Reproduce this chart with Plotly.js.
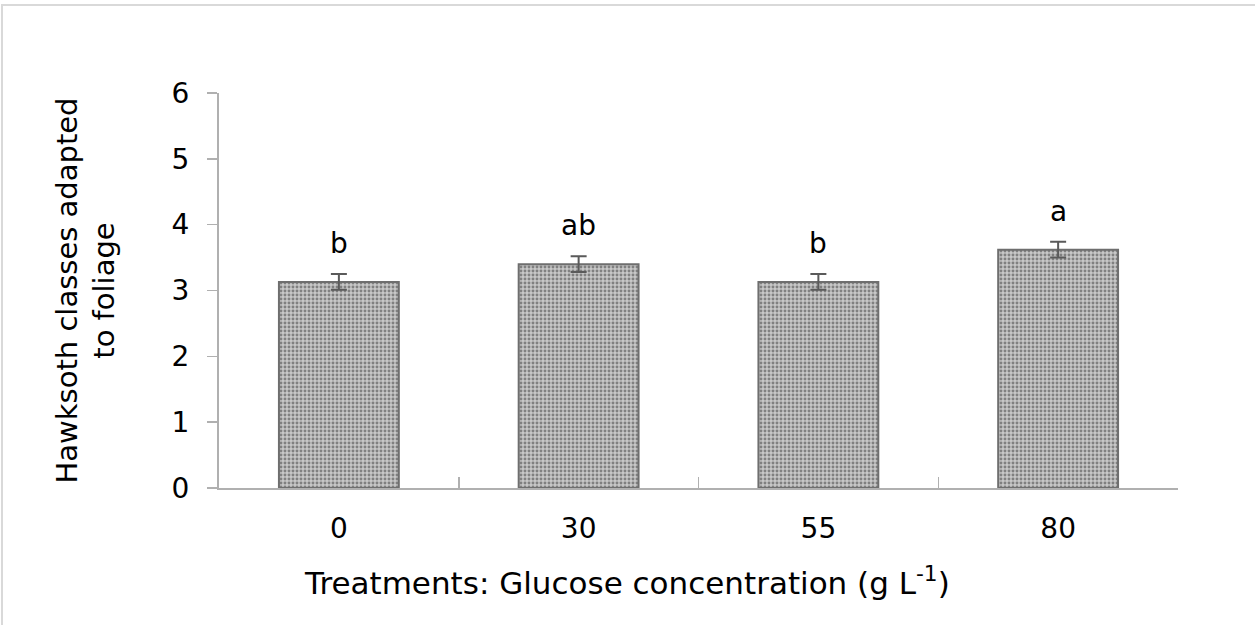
<!DOCTYPE html>
<html>
<head>
<meta charset="utf-8">
<script src="https://cdn.plot.ly/plotly-3.0.1.min.js"></script>
<style>
  html, body { margin: 0; padding: 0; background: #fff; }
  #frame { position: absolute; left: 1px; top: 4px; width: 1260px; height: 630px;
           border-top: 2px solid #d9d9d9; border-left: 2px solid #d9d9d9; }
  #chart { position: absolute; left: 0; top: 0; width: 1255px; height: 625px; }
</style>
</head>
<body>
<div id="frame"></div>
<div id="chart"></div>
<script>
const categories = ["0", "30", "55", "80"];
const values = [3.13, 3.40, 3.13, 3.62];
const errors = [0.12, 0.12, 0.12, 0.12];
const letters = ["b", "ab", "b", "a"];
const xTitle = "Treatments: Glucose concentration (g L<sup>-1</sup>)";
const yTitle = "Hawksoth classes adapted<br>to foliage";

const font = "DejaVu Sans, Verdana, sans-serif";

const bars = {
  type: "bar",
  x: categories,
  y: values,
  width: 0.5,
  marker: {
    color: "#b0b0b0",
    line: { color: "#6e6e6e", width: 2 },
    pattern: { shape: ".", fgcolor: "#808080", bgcolor: "#c8c8c8", size: 4, solidity: 0.42 }
  },
  error_y: { type: "data", array: errors, visible: true, color: "#5a5a5a", thickness: 2, width: 8 },
  hoverinfo: "skip"
};

const annotations = categories.map((c, i) => ({
  x: i,
  y: values[i] + errors[i],
  xref: "x",
  yref: "y",
  text: letters[i],
  showarrow: false,
  yanchor: "bottom",
  yshift: 12,
  font: { family: font, size: 28, color: "#000" }
}));

// x-axis title, centred on the page as in the reference
annotations.push({
  xref: "paper",
  yref: "paper",
  x: 0.4255,
  y: -0.235,
  xanchor: "center",
  yanchor: "middle",
  text: xTitle,
  showarrow: false,
  font: { family: font, size: 31, color: "#000" }
});

const layout = {
  width: 1255,
  height: 625,
  paper_bgcolor: "rgba(0,0,0,0)",
  plot_bgcolor: "rgba(0,0,0,0)",
  showlegend: false,
  margin: { l: 219, r: 77, t: 93, b: 137 },
  font: { family: font, size: 28, color: "#000" },
  annotations: annotations,
  xaxis: {
    type: "category",
    range: [-0.5, categories.length - 0.5],
    showline: true,
    linecolor: "#b0b0b0",
    linewidth: 2,
    ticks: "inside",
    tickson: "boundaries",
    ticklen: 11,
    tickwidth: 1.5,
    tickcolor: "#b0b0b0",
    showgrid: false,
    tickangle: 0,
    tickfont: { family: font, size: 28, color: "#000" },
    ticklabelstandoff: 14
  },
  yaxis: {
    range: [0, 6],
    dtick: 1,
    showline: true,
    linecolor: "#b0b0b0",
    linewidth: 2,
    ticks: "outside",
    ticklen: 10,
    tickwidth: 1.5,
    tickcolor: "#b0b0b0",
    showgrid: false,
    zeroline: false,
    tickfont: { family: font, size: 28, color: "#000" },
    ticklabelstandoff: 12,
    title: { text: yTitle, font: { family: font, size: 29, color: "#000" }, standoff: 48 }
  }
};

Plotly.newPlot("chart", [bars], layout, { displayModeBar: false, staticPlot: true });
</script>
</body>
</html>
